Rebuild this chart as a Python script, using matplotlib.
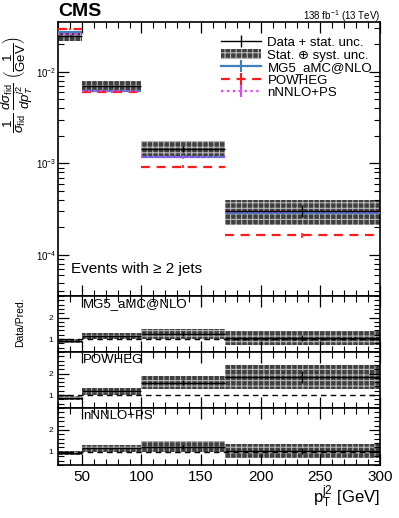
import numpy as np
import matplotlib
matplotlib.use("Agg")
import matplotlib.pyplot as plt
from matplotlib.ticker import FixedLocator, NullFormatter, LogLocator, MultipleLocator

plt.rcParams['font.family'] = ['Liberation Sans', 'DejaVu Sans']
plt.rcParams['mathtext.fontset'] = 'custom'
plt.rcParams['mathtext.rm'] = 'Liberation Sans'
plt.rcParams['mathtext.it'] = 'Liberation Sans:italic'
plt.rcParams['hatch.linewidth'] = 0.8

# ---- data ----
bin_edges = [30, 50, 100, 170, 300]
data_vals = [0.0247, 0.00704, 0.00145, 3.04e-4]
data_stat_rel = [0.01, 0.02, 0.07, 0.15]
data_tot_rel = [0.11, 0.13, 0.20, 0.30]
mg5_vals = [0.0270, 0.0062, 0.00118, 2.90e-4]
powheg_vals = [0.0292, 0.0060, 0.00092, 1.65e-4]
nnnlo_vals = [0.0262, 0.0061, 0.00117, 2.92e-4]
pred_err_rel = [0.02, 0.03, 0.04, 0.06]
pred_names = ["MG5_aMC@NLO", "POWHEG", "nNNLO+PS"]
x_ticks = [50, 100, 150, 200, 250, 300]

edges = np.array(bin_edges, float)
centers = 0.5 * (edges[:-1] + edges[1:])
lo, hi = edges[:-1], edges[1:]
data = np.array(data_vals)
stat = data * np.array(data_stat_rel)
tot = data * np.array(data_tot_rel)
preds = [np.array(mg5_vals), np.array(powheg_vals), np.array(nnnlo_vals)]
pcolors = ['#3d80c0', '#ff1a1a', '#e040ff']
pstyles = ['-', (0, (4, 3)), ':']

W, H = 399, 518
fig = plt.figure(figsize=(W / 100, H / 100), dpi=100)

def ax_at(top, bottom):
    return fig.add_axes([58 / W, 1 - bottom / H, (380 - 58) / W, (bottom - top) / H])

ax = ax_at(22, 296)
rax = [ax_at(296, 352), ax_at(352, 408), ax_at(408, 465)]

band_kw = dict(facecolor='#404040', edgecolor='#b8b8b8', hatch='+++', linewidth=0)

# main panel
for i in range(len(data)):
    ax.bar(lo[i], 2 * tot[i], width=hi[i] - lo[i], bottom=data[i] - tot[i], align='edge', zorder=1, **band_kw)
for k, p in enumerate(preds):
    ax.hlines(p, lo, hi, colors=pcolors[k], linestyles=pstyles[k], lw=1.6, zorder=3)
    ax.errorbar(centers, p, yerr=p * np.array(pred_err_rel), fmt='none', ecolor=pcolors[k], elinewidth=1.2, capsize=0, zorder=3)
ax.hlines(data, lo, hi, colors='black', lw=1.0, zorder=4)
ax.errorbar(centers, data, yerr=stat, fmt='none', ecolor='black', elinewidth=1.0, zorder=4)

ax.set_yscale('log')
ax.set_ylim(3.57e-5, 0.035)
ax.set_xlim(30, 300)
ax.yaxis.set_major_locator(LogLocator(base=10, numticks=10))
ax.yaxis.set_minor_locator(LogLocator(base=10, subs=np.arange(2, 10), numticks=10))
ax.yaxis.set_minor_formatter(NullFormatter())
ax.tick_params(axis='y', labelsize=7, pad=1)
ax.set_xticklabels([])

for a in [ax] + rax:
    a.set_xlim(30, 300)
    a.xaxis.set_major_locator(FixedLocator(x_ticks))
    a.xaxis.set_minor_locator(MultipleLocator(10))
    a.tick_params(which='both', direction='in', top=True, right=True)
    a.tick_params(which='major', length=8, width=0.9)
    a.tick_params(which='minor', length=4, width=0.8)
    for s in a.spines.values():
        s.set_linewidth(1.2)

# ratio panels
for k, p in enumerate(preds):
    a = rax[k]
    r = data / p
    rt = r * np.array(data_tot_rel)
    rs = r * np.array(data_stat_rel)
    for i in range(len(r)):
        a.bar(lo[i], 2 * rt[i], width=hi[i] - lo[i], bottom=r[i] - rt[i], align='edge', zorder=1, **band_kw)
    a.axhline(1.0, color='black', ls=(0, (4, 3)), lw=1.0, zorder=2)
    a.hlines(r, lo, hi, colors='black', lw=1.0, zorder=3)
    a.errorbar(centers, r, yerr=rs, fmt='none', ecolor='black', elinewidth=1.0, zorder=3)
    a.set_ylim(0.4, 3.0)
    a.yaxis.set_major_locator(FixedLocator([1, 2]))
    a.yaxis.set_minor_locator(MultipleLocator(0.2))
    a.tick_params(axis='y', labelsize=6)
    a.text(51, 2.92, pred_names[k], fontsize=9.5, va='top', ha='left')
    if k < 2:
        a.set_xticklabels([])
rax[2].tick_params(axis='x', labelsize=11)

# legend
from matplotlib.lines import Line2D
from matplotlib.patches import Patch
handles = [
    Line2D([0], [0], color='black', lw=1.0, marker='|', markersize=9),
    Patch(**band_kw),
    Line2D([0], [0], color=pcolors[0], lw=1.6, ls='-', marker='|', markersize=8, markeredgewidth=1.5),
    Line2D([0], [0], color=pcolors[1], lw=1.6, ls=(0, (4, 3)), marker='|', markersize=8, markeredgewidth=1.5),
    Line2D([0], [0], color=pcolors[2], lw=1.6, ls=':', marker='|', markersize=8, markeredgewidth=1.5),
]
labels = ["Data + stat. unc.", "Stat. \u2295 syst. unc.", "MG5_aMC@NLO", "POWHEG", "nNNLO+PS"]
ax.legend(handles, labels, loc='upper right', bbox_to_anchor=(1.0, 0.975), frameon=False, fontsize=9.5,
          handlelength=3.0, handletextpad=0.5, labelspacing=0.02, borderaxespad=0.2)

ax.text(0.04, 0.1, "Events with \u2265 2 jets", transform=ax.transAxes, fontsize=11, va='center')

fig.text(58 / W, 1 - 12 / H, "CMS", fontsize=14, fontweight='bold', va='center', ha='left')
fig.text(380 / W, 1 - 16 / H, "138 fb$^{-1}$ (13 TeV)", fontsize=7, va='center', ha='right')

fig.text(17 / W, 1 - 85 / H,
         r"$\dfrac{1}{\sigma_{\mathrm{fid}}}\ \dfrac{d\sigma_{\mathrm{fid}}}{dp_T^{j2}}\ \left(\dfrac{1}{\mathrm{GeV}}\right)$",
         rotation=90, fontsize=9.5, va='center', ha='center')
fig.text(20 / W, 1 - 322 / H, "Data/Pred.", rotation=90, fontsize=7.5, va='center', ha='center')
fig.text(380 / W, 1 - 497 / H, r"p$_\mathrm{T}^\mathrm{j2}$ [GeV]", fontsize=12, va='center', ha='right')

fig.savefig("out.png", dpi=100)
